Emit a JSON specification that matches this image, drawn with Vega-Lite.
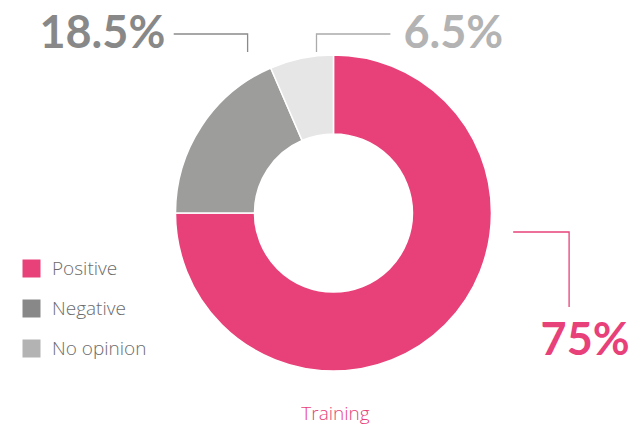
{
  "$schema": "https://vega.github.io/schema/vega-lite/v6.json",
  "width": 630,
  "height": 426,
  "autosize": {"type": "fit", "contains": "padding"},
  "padding": 0,
  "background": "white",
  "config": {"view": {"stroke": null}},
  "datasets": {
    "slices": [
      {"answer": "Positive", "idx": 1, "share": 75, "label": "75%", "lx": 1.5949, "ly": -0.8987},
      {"answer": "Negative", "idx": 2, "share": 18.5, "label": "18.5%", "lx": -1.4652, "ly": 1.0443},
      {"answer": "No opinion", "idx": 3, "share": 6.5, "label": "6.5%", "lx": 0.7595, "ly": 1.0443}
    ],
    "leaders": [
      {"answer": "Negative", "p": 1, "x": -0.5443, "y": 1.019},
      {"answer": "Negative", "p": 2, "x": -0.5443, "y": 1.1329},
      {"answer": "Negative", "p": 3, "x": -1.0127, "y": 1.1329},
      {"answer": "No opinion", "p": 1, "x": -0.1076, "y": 1.019},
      {"answer": "No opinion", "p": 2, "x": -0.1076, "y": 1.1329},
      {"answer": "No opinion", "p": 3, "x": 0.3608, "y": 1.1329},
      {"answer": "Positive", "p": 1, "x": 1.1392, "y": -0.1203},
      {"answer": "Positive", "p": 2, "x": 1.4937, "y": -0.1203},
      {"answer": "Positive", "p": 3, "x": 1.4937, "y": -0.5949}
    ],
    "caption": [{"text": "Training", "x": 0.0127, "y": -1.3101}]
  },
  "layer": [
    {
      "data": {"name": "slices"},
      "mark": {"type": "point", "shape": "square", "filled": true, "size": 4},
      "encoding": {
        "x": {"datum": 0.75, "type": "quantitative", "scale": {"domain": [-2.1139, 1.8734], "nice": false, "zero": false}, "axis": null},
        "y": {"datum": 0, "type": "quantitative", "scale": {"domain": [-1.3481, 1.3481], "nice": false, "zero": false}, "axis": null},
        "fill": {
          "field": "answer", "type": "nominal",
          "scale": {"domain": ["Positive", "Negative", "No opinion"], "range": ["#E8417A", "#888888", "#B3B3B3"]},
          "legend": {
            "title": null, "orient": "none", "legendX": 22, "legendY": 259,
            "symbolType": "square", "symbolSize": 324, "symbolOpacity": 1, "symbolStrokeWidth": 0,
            "labelFont": "Open Sans", "labelFontSize": 19, "labelColor": "#6B6B6B", "labelOffset": 11,
            "rowPadding": 20, "labelFontWeight": 300
          }
        }
      }
    },
    {
      "data": {"name": "slices"},
      "mark": {"type": "arc", "radius": 158, "radius2": 79, "stroke": "white", "strokeWidth": 1.5},
      "encoding": {
        "x": {"datum": 0, "type": "quantitative", "scale": {"domain": [-2.1139, 1.8734], "nice": false, "zero": false}, "axis": null},
        "y": {"datum": 0, "type": "quantitative", "scale": {"domain": [-1.3481, 1.3481], "nice": false, "zero": false}, "axis": null},
        "theta": {"field": "share", "type": "quantitative", "stack": true},
        "order": {"field": "idx", "type": "ordinal"},
        "color": {"field": "answer", "type": "nominal", "scale": {"domain": ["Positive", "Negative", "No opinion"], "range": ["#E8417A", "#9D9D9C", "#E6E6E6"]}, "legend": null}
      }
    },
    {
      "data": {"name": "leaders"},
      "mark": {"type": "line", "strokeWidth": 1.3},
      "encoding": {
        "x": {"field": "x", "type": "quantitative", "scale": {"domain": [-2.1139, 1.8734], "nice": false, "zero": false}, "axis": null},
        "y": {"field": "y", "type": "quantitative", "scale": {"domain": [-1.3481, 1.3481], "nice": false, "zero": false}, "axis": null},
        "detail": {"field": "answer"},
        "order": {"field": "p", "type": "quantitative"},
        "stroke": {"field": "answer", "type": "nominal", "scale": {"domain": ["Positive", "Negative", "No opinion"], "range": ["#E8417A", "#8A8A8A", "#ABABAB"]}, "legend": null}
      }
    },
    {
      "data": {"name": "slices"},
      "mark": {"type": "text", "font": "Lato", "fontWeight": "bold", "fontSize": 45, "baseline": "alphabetic", "align": "center"},
      "encoding": {
        "x": {"field": "lx", "type": "quantitative", "scale": {"domain": [-2.1139, 1.8734], "nice": false, "zero": false}, "axis": null},
        "y": {"field": "ly", "type": "quantitative", "scale": {"domain": [-1.3481, 1.3481], "nice": false, "zero": false}, "axis": null},
        "text": {"field": "label"},
        "fill": {"field": "answer", "type": "nominal"}
      }
    },
    {
      "data": {"name": "caption"},
      "mark": {"type": "text", "font": "Open Sans", "fontSize": 19, "fontWeight": 300, "color": "#E8417A", "baseline": "alphabetic", "align": "center"},
      "encoding": {
        "x": {"field": "x", "type": "quantitative", "scale": {"domain": [-2.1139, 1.8734], "nice": false, "zero": false}, "axis": null},
        "y": {"field": "y", "type": "quantitative", "scale": {"domain": [-1.3481, 1.3481], "nice": false, "zero": false}, "axis": null},
        "text": {"field": "text"}
      }
    }
  ]
}
